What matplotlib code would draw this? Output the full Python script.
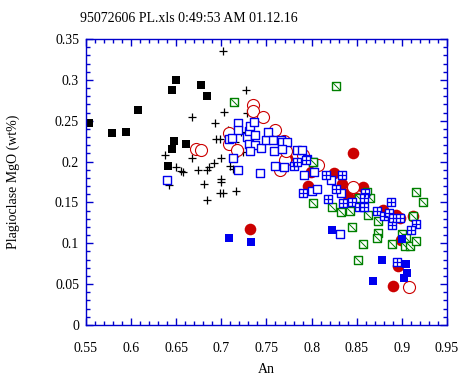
import matplotlib
matplotlib.use("Agg")
import matplotlib.pyplot as plt
from matplotlib.path import Path
from matplotlib.ticker import MultipleLocator

# black filled squares
blk_sq_x = [0.553, 0.579, 0.594, 0.608, 0.645, 0.650, 0.677, 0.684, 0.647, 0.661, 0.645, 0.641]
blk_sq_y = [0.247, 0.235, 0.236, 0.263, 0.288, 0.300, 0.294, 0.280, 0.225, 0.221, 0.216, 0.194]

# black crosses
plus_x = [0.702, 0.727, 0.703, 0.728, 0.667, 0.693, 0.707, 0.710, 0.722, 0.694, 0.698, 0.708,
          0.715, 0.719, 0.724, 0.638, 0.667, 0.700, 0.692, 0.686, 0.674, 0.684, 0.650, 0.655,
          0.658, 0.710, 0.713, 0.642, 0.681, 0.700, 0.700, 0.698, 0.702, 0.716, 0.684]
plus_y = [0.335, 0.288, 0.261, 0.259, 0.254, 0.247, 0.239, 0.237, 0.236, 0.228, 0.228, 0.226,
          0.224, 0.210, 0.212, 0.208, 0.204, 0.204, 0.198, 0.193, 0.190, 0.190, 0.193, 0.188,
          0.187, 0.195, 0.191, 0.171, 0.173, 0.179, 0.175, 0.162, 0.162, 0.164, 0.153]

# red filled circles
red_fill_x = [0.732, 0.773, 0.799, 0.796, 0.846, 0.825, 0.834, 0.839, 0.857, 0.850, 0.879,
              0.894, 0.898, 0.912, 0.899, 0.896, 0.890]
red_fill_y = [0.117, 0.205, 0.187, 0.170, 0.211, 0.186, 0.173, 0.160, 0.169, 0.156, 0.141,
              0.135, 0.131, 0.134, 0.104, 0.072, 0.048]

# red open circles
red_open_x = [0.672, 0.678, 0.708, 0.708, 0.717, 0.735, 0.735, 0.746, 0.759, 0.769, 0.770,
              0.765, 0.772, 0.791, 0.807, 0.846, 0.908]
red_open_y = [0.215, 0.214, 0.222, 0.235, 0.214, 0.269, 0.262, 0.254, 0.239, 0.225, 0.202,
              0.190, 0.213, 0.208, 0.196, 0.169, 0.046]

# blue open squares
blue_open_x = [0.640, 0.708, 0.712, 0.713, 0.718, 0.718, 0.718, 0.728, 0.731, 0.732, 0.736,
               0.737, 0.731, 0.737, 0.732, 0.744, 0.743, 0.749, 0.752, 0.757, 0.758, 0.759,
               0.766, 0.767, 0.773, 0.767, 0.769, 0.784, 0.789, 0.795, 0.801, 0.803, 0.792,
               0.822, 0.833, 0.800, 0.806, 0.831]
blue_open_y = [0.178, 0.228, 0.229, 0.204, 0.247, 0.239, 0.190, 0.230, 0.237, 0.243, 0.248,
               0.233, 0.221, 0.220, 0.213, 0.217, 0.186, 0.227, 0.236, 0.226, 0.213, 0.194,
               0.227, 0.224, 0.224, 0.215, 0.193, 0.214, 0.214, 0.203, 0.200, 0.187, 0.184,
               0.177, 0.162, 0.164, 0.166, 0.111]

# green squares with diagonal
green_x = [0.714, 0.827, 0.802, 0.802, 0.823, 0.833, 0.842, 0.853, 0.861, 0.865, 0.862, 0.874,
           0.845, 0.874, 0.872, 0.857, 0.851, 0.889, 0.900, 0.905, 0.903, 0.909, 0.916, 0.912,
           0.916, 0.923]
green_y = [0.273, 0.292, 0.200, 0.149, 0.144, 0.138, 0.139, 0.155, 0.163, 0.155, 0.135, 0.127,
           0.120, 0.113, 0.106, 0.099, 0.080, 0.099, 0.111, 0.106, 0.097, 0.097, 0.103, 0.133,
           0.163, 0.150]

# blue squares with cross
grid_x = [0.781, 0.784, 0.794, 0.790, 0.816, 0.834, 0.827, 0.818, 0.835, 0.845, 0.852, 0.859,
          0.858, 0.858, 0.872, 0.880, 0.886, 0.888, 0.889, 0.890, 0.898, 0.916, 0.910, 0.895]
grid_y = [0.194, 0.199, 0.202, 0.161, 0.184, 0.184, 0.166, 0.154, 0.149, 0.150, 0.144, 0.161,
          0.155, 0.144, 0.140, 0.133, 0.137, 0.150, 0.122, 0.131, 0.131, 0.124, 0.116, 0.077]

# blue filled squares
blue_fill_x = [0.709, 0.733, 0.823, 0.878, 0.905, 0.906, 0.902, 0.868, 0.900]
blue_fill_y = [0.107, 0.101, 0.116, 0.080, 0.075, 0.064, 0.058, 0.054, 0.105]

plt.rcParams['font.family'] = ['Liberation Serif', 'DejaVu Serif']
plt.rcParams['font.size'] = 10

frame = '#0000cc'
red = '#cc0000'
green = '#008000'
blue = '#0000ee'

fig = plt.figure(figsize=(4.75, 3.79), dpi=100)
ax = fig.add_axes([0.181, 0.1425, 0.760, 0.7545])

diag = Path([(-0.55, 0.55), (0.55, -0.55)], [Path.MOVETO, Path.LINETO])

ax.scatter(blk_sq_x, blk_sq_y, marker='s', s=36, c='black', linewidths=0, zorder=2)
ax.scatter(plus_x, plus_y, marker='+', s=40, c='black', linewidths=0.9, zorder=3)
ax.scatter(red_fill_x, red_fill_y, marker='o', s=70, c=red, linewidths=0, zorder=4)
ax.scatter(red_open_x, red_open_y, marker='o', s=75, facecolors='white', edgecolors=red,
           linewidths=0.8, zorder=5)
ax.scatter(blue_open_x, blue_open_y, marker='s', s=30, facecolors='white', edgecolors=blue,
           linewidths=1.0, zorder=6)
ax.scatter(green_x, green_y, marker='s', s=28, facecolors='white', edgecolors=green,
           linewidths=1.0, zorder=7)
ax.scatter(green_x, green_y, marker=diag, s=28, c=green, linewidths=0.7, zorder=7)
ax.scatter(grid_x, grid_y, marker='s', s=30, facecolors='white', edgecolors=blue,
           linewidths=1.0, zorder=8)
ax.scatter(grid_x, grid_y, marker='+', s=30, c=blue, linewidths=0.9, zorder=8)
ax.scatter(blue_fill_x, blue_fill_y, marker='s', s=34, c=blue, linewidths=0, zorder=9)

ax.set_xlim(0.55, 0.95)
ax.set_ylim(0, 0.35)
ax.xaxis.set_major_locator(MultipleLocator(0.05))
ax.xaxis.set_minor_locator(MultipleLocator(0.01))
ax.yaxis.set_major_locator(MultipleLocator(0.05))
ax.yaxis.set_minor_locator(MultipleLocator(0.01))
ax.set_xticklabels([f'{v:g}' for v in ax.get_xticks()])
ax.set_yticklabels([f'{v:g}' for v in ax.get_yticks()])

for sp in ax.spines.values():
    sp.set_color(frame)
    sp.set_linewidth(1.0)
ax.tick_params(which='both', direction='in', top=True, right=True, color=frame, width=1.0,
               labelsize=10, labelcolor='black')
ax.tick_params(which='major', length=5)
ax.tick_params(which='minor', length=3)
ax.tick_params(axis='x', which='major', pad=12)
ax.tick_params(axis='y', which='major', pad=5)

ax.set_xlabel('An', fontsize=10, labelpad=6)
ax.set_ylabel('Plagioclase MgO (wt%)', fontsize=10, labelpad=25)
fig.text(80 / 475, 1 - 19 / 379, '95072606 PL.xls 0:49:53 AM 01.12.16', fontsize=10,
         ha='left', va='center')

fig.savefig('out.png', dpi=100)
